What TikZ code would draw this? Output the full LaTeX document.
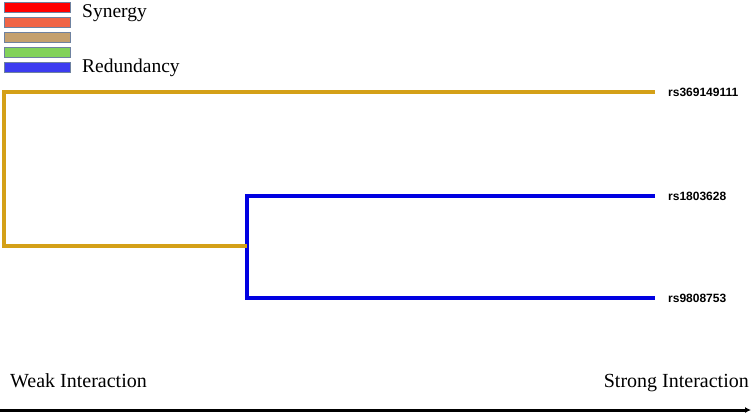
\documentclass[tikz,border=0pt]{standalone}
\usepackage{fontspec}
\setmainfont{Liberation Serif}
\newfontfamily\lblfont{Liberation Sans}
\usetikzlibrary{arrows.meta}
\definecolor{gold}{RGB}{212,160,23}
\definecolor{dblue}{RGB}{0,0,225}
\definecolor{lred}{RGB}{255,0,0}
\definecolor{lorange}{RGB}{240,100,70}
\definecolor{ltan}{RGB}{196,160,110}
\definecolor{lgreen}{RGB}{130,210,90}
\definecolor{lblue}{RGB}{60,60,240}
\definecolor{lborder}{RGB}{110,130,160}
\begin{document}
\begin{tikzpicture}[x=1pt,y=-1pt,
  legbox/.style={draw=lborder,line width=0.8pt},
  branch/.style={line width=4pt,line join=miter},
  leaflbl/.style={anchor=west,inner sep=0pt,font=\lblfont\bfseries\fontsize{12}{13}\selectfont},
  axislbl/.style={inner sep=0pt,font=\fontsize{20}{21}\selectfont},
  leglbl/.style={anchor=west,inner sep=0pt,font=\fontsize{19.5}{20}\selectfont}]
\useasboundingbox (0,0) rectangle (751,416);
% legend
\filldraw[legbox,fill=lred] (4,2) rectangle (70,12);
\filldraw[legbox,fill=lorange] (4,17) rectangle (70,27);
\filldraw[legbox,fill=ltan] (4,32) rectangle (70,42);
\filldraw[legbox,fill=lgreen] (4,47) rectangle (70,57);
\filldraw[legbox,fill=lblue] (4,62) rectangle (70,72);
\node[leglbl,anchor=base west] (syn) at (82,17) {Synergy};
\node[leglbl,anchor=base west] (red) at (82,72) {Redundancy};
% leaves
\coordinate (l1) at (655,92);
\coordinate (l2) at (655,196);
\coordinate (l3) at (655,298);
\node[leaflbl] (t1) at (668,92) {rs369149111};
\node[leaflbl] (t2) at (668,196) {rs1803628};
\node[leaflbl] (t3) at (668,298) {rs9808753};
% tree
\coordinate (j2) at (247,246);
\draw[branch,dblue] (l2) -- (247,196) -- (247,298) -- (l3);
\draw[branch,gold] (l1) -- (4,92) -- (4,246) -- (j2);
% axis
\node[axislbl,anchor=base west] (weak) at (10,387) {Weak Interaction};
\node[axislbl,anchor=base east] (strong) at (749,387) {Strong Interaction};
\coordinate (a0) at (0,410);
\coordinate (a1) at (751,410);
\draw[line width=3pt,-{Latex[length=6pt,width=6pt]}] (a0) -- (a1);
\end{tikzpicture}
\end{document}
